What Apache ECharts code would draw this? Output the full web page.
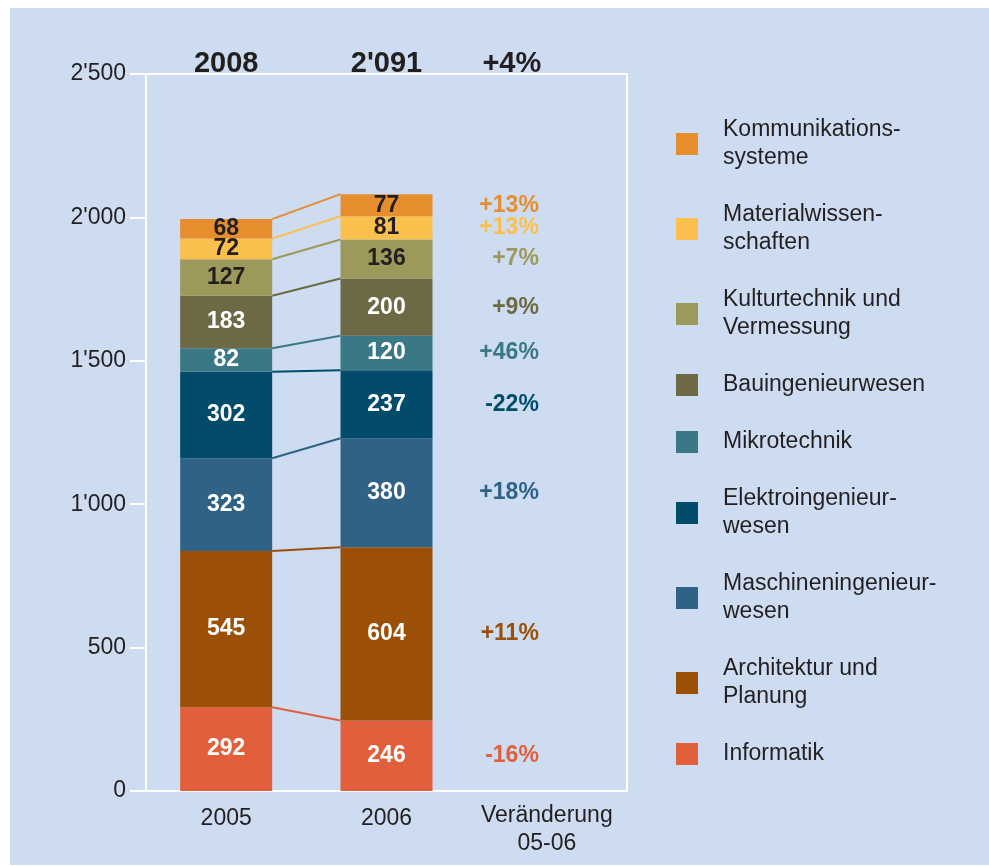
<!DOCTYPE html>
<html>
<head>
<meta charset="utf-8">
<script src="https://cdn.jsdelivr.net/npm/echarts@6/dist/echarts.min.js"></script>
<style>
  html, body { margin: 0; padding: 0; background: #ffffff; }
  #panel { position: absolute; left: 10px; top: 8px; width: 979px; height: 857px; background: #cddcf1; }
  #chart { position: absolute; left: 0; top: 0; width: 989px; height: 866px; }
</style>
</head>
<body>
<div id="panel"></div>
<div id="chart"></div>
<script>
// categories on the x axis
const categories = ['2005', '2006', 'Veränderung\n05-06'];
// totals shown above the bars
const headerLabels = ['2008', "2'091", '+4%'];

// series from bottom to top of the stack
const seriesNames = [
  'Informatik',
  'Architektur und Planung',
  'Maschineningenieurwesen',
  'Elektroingenieurwesen',
  'Mikrotechnik',
  'Bauingenieurwesen',
  'Kulturtechnik und Vermessung',
  'Materialwissenschaften',
  'Kommunikationssysteme'
];
const legendLabels = [
  'Informatik',
  'Architektur und\nPlanung',
  'Maschineningenieur-\nwesen',
  'Elektroingenieur-\nwesen',
  'Mikrotechnik',
  'Bauingenieurwesen',
  'Kulturtechnik und\nVermessung',
  'Materialwissen-\nschaften',
  'Kommunikations-\nsysteme'
];
const values2005 = [292, 545, 323, 302, 82, 183, 127, 72, 68];
const values2006 = [246, 604, 380, 237, 120, 200, 136, 81, 77];
const changeLabels = ['-16%', '+11%', '+18%', '-22%', '+46%', '+9%', '+7%', '+13%', '+13%'];
const colors = ['#e15f3b', '#9b4f07', '#2f6285', '#024b6b', '#3b7885', '#6d6944', '#9c995a', '#fbbf4d', '#e68d2e'];
const darkLabel = [false, false, false, false, false, false, true, true, true];

const yTicks = [0, 500, 1000, 1500, 2000, 2500];

const textDark = '#231f20';
const font = 'Liberation Sans, Arial, sans-serif';
const barWidth = 92;

function fmtThousands(v) {
  if (v < 1000) return String(v);
  return Math.floor(v / 1000) + "'" + String(v % 1000).padStart(3, '0');
}

// cumulative tops of every segment, for the connecting lines
let cum05 = 0, cum06 = 0;
const lineData = seriesNames.map((n, i) => {
  cum05 += values2005[i];
  cum06 += values2006[i];
  return [0, cum05, cum06, i];
});

const barSeries = seriesNames.map((name, i) => ({
  name: name,
  type: 'bar',
  stack: 'total',
  barWidth: barWidth,
  z: 3,
  itemStyle: { color: colors[i] },
  label: {
    show: true,
    position: 'inside',
    color: darkLabel[i] ? textDark : '#ffffff',
    fontFamily: font,
    fontWeight: 'bold',
    fontSize: 23
  },
  data: [
    values2005[i],
    values2006[i],
    {
      value: values2006[i],
      itemStyle: { color: 'transparent' },
      label: {
        show: true,
        position: [38, '50%'],
        align: 'right',
        verticalAlign: 'middle',
        color: colors[i],
        fontSize: 23,
        formatter: () => changeLabels[i]
      }
    }
  ]
}));

const chart = echarts.init(document.getElementById('chart'));

chart.setOption({
  backgroundColor: 'transparent',
  animation: false,
  textStyle: { fontFamily: font },
  grid: {
    left: 146, right: 362, top: 74, bottom: 75,
    show: true, borderColor: '#ffffff', borderWidth: 2, backgroundColor: 'transparent'
  },
  legend: {
    orient: 'vertical',
    left: 676,
    top: 116,
    padding: 0,
    itemGap: 29,
    itemWidth: 22,
    itemHeight: 22,
    icon: 'rect',
    data: seriesNames.slice().reverse(),
    formatter: name => legendLabels[seriesNames.indexOf(name)],
    textStyle: {
      color: textDark,
      fontFamily: font,
      fontSize: 23,
      lineHeight: 28,
      padding: [0, 0, 0, 20]
    }
  },
  xAxis: [
    {
      type: 'category',
      data: categories.map((c, i) => i < 2 ? { value: c, textStyle: { padding: [3, 0, 0, 0] } } : c),
      axisLine: { show: true, lineStyle: { color: '#ffffff', width: 2 } },
      axisTick: { show: false },
      axisLabel: {
        interval: 0,
        color: textDark, fontFamily: font, fontSize: 23, lineHeight: 28, margin: 11
      }
    },
    {
      type: 'category',
      position: 'top',
      data: headerLabels.map((t, i) => i === 2 ? { value: t, textStyle: { padding: [0, 70, 0, 0] } } : t),
      axisLine: { show: false },
      axisTick: { show: false },
      axisLabel: {
        interval: 0,
        color: textDark, fontFamily: font, fontSize: 29, fontWeight: 'bold', margin: -4
      }
    }
  ],
  yAxis: {
    type: 'value',
    min: 0,
    max: 2500,
    interval: 500,
    splitLine: { show: false },
    axisLine: { show: true, lineStyle: { color: '#ffffff', width: 2 } },
    axisTick: { show: true, length: 16, lineStyle: { color: '#ffffff', width: 2 } },
    axisLabel: {
      color: textDark, fontFamily: font, fontSize: 23, margin: 20,
      formatter: v => yTicks.indexOf(v) >= 0 ? fmtThousands(v) : ''
    }
  },
  series: barSeries.concat([{
    type: 'custom',
    name: 'links',
    z: 2,
    silent: true,
    encode: { x: 0, y: [1, 2] },
    data: lineData,
    renderItem: (params, api) => {
      const p0 = api.coord([0, api.value(1)]);
      const p1 = api.coord([1, api.value(2)]);
      const idx = api.value(3);
      return {
        type: 'line',
        shape: { x1: p0[0] + barWidth / 2, y1: p0[1], x2: p1[0] - barWidth / 2, y2: p1[1] },
        style: { stroke: colors[idx], lineWidth: 2 }
      };
    }
  }])
});
</script>
</body>
</html>
